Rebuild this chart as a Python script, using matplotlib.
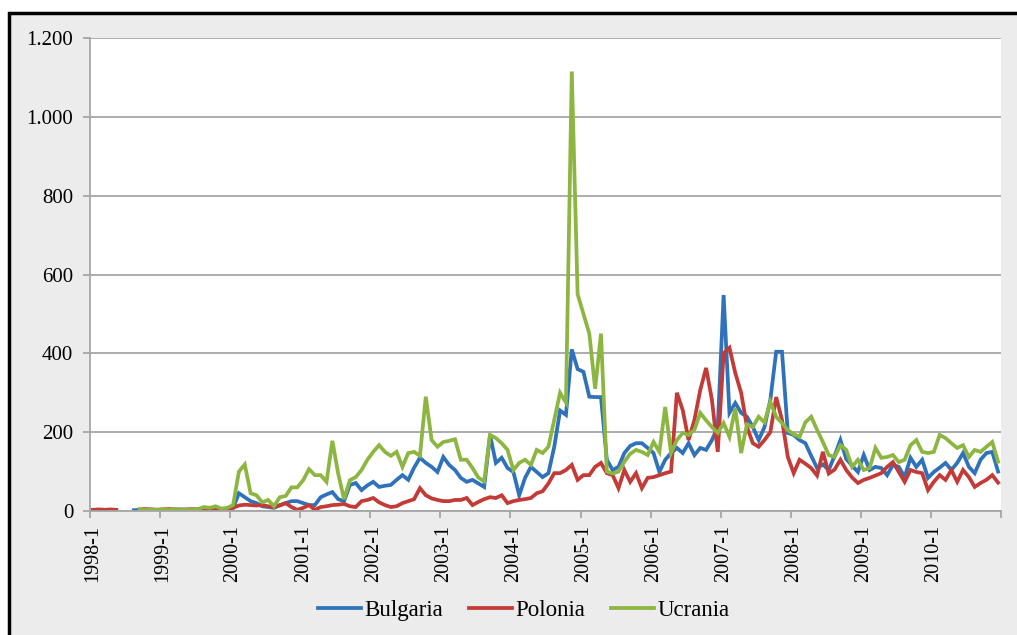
import numpy as np
import matplotlib
matplotlib.use("Agg")
import matplotlib.pyplot as plt
from matplotlib.patches import Rectangle

nan = np.nan

# monthly series, 1998-1 .. 2010-12
years = list(range(1998, 2011))
month_labels = [f"{y}-{m}" for y in years for m in range(1, 13)]
tick_labels = [f"{y}-1" for y in years]

bulgaria = [
    nan, nan, nan, nan, nan, nan, nan, 2, 3, 3, 2, 3,                 # 1998
    3, 2, 3, 4, 3, 3, 4, 5, 4, 5, 3, 4,                               # 1999
    8, 45, 35, 25, 20, 12, 10, 8, 15, 20, 25, 25,                     # 2000
    20, 15, 15, 35, 42, 48, 30, 25, 66, 71, 53, 65,                   # 2001
    74, 61, 64, 66, 79, 91, 79, 110, 135, 122, 112, 99,               # 2002
    137, 117, 104, 84, 74, 79, 70, 61, 193, 122, 135, 109,            # 2003
    99, 40, 84, 112, 99, 86, 96, 163, 255, 244, 410, 360,             # 2004
    353, 290, 289, 289, 130, 104, 112, 147, 165, 172, 172, 160,       # 2005
    147, 99, 130, 147, 160, 147, 172, 142, 160, 155, 180, 213,        # 2006
    548, 249, 274, 249, 239, 213, 180, 213, 282, 404, 404, 198,       # 2007
    193, 180, 172, 140, 109, 118, 104, 140, 180, 132, 115, 99,        # 2008
    142, 104, 112, 109, 91, 117, 112, 86, 135, 112, 130, 84,          # 2009
    99, 110, 122, 104, 122, 147, 112, 96, 130, 147, 150, 100,         # 2010
]

polonia = [
    3, 4, 3, 4, 3, nan, nan, nan, 4, 5, 4, 3,                         # 1998
    4, 5, 4, 3, 4, 5, 3, 4, 5, 6, 4, 5,                               # 1999
    8, 14, 16, 15, 14, 15, 12, 10, 14, 20, 10, 3,                     # 2000
    8, 15, 3, 10, 12, 15, 16, 18, 12, 10, 25, 28,                     # 2001
    33, 22, 15, 10, 12, 20, 25, 30, 58, 40, 32, 28,                   # 2002
    25, 25, 28, 28, 33, 15, 23, 30, 35, 33, 40, 20,                   # 2003
    25, 28, 30, 33, 45, 50, 70, 96, 96, 104, 117, 79,                 # 2004
    91, 91, 112, 122, 96, 91, 58, 104, 74, 96, 58, 84,                # 2005
    86, 91, 96, 100, 300, 256, 180, 231, 307, 363, 282, 150,          # 2006
    400, 414, 350, 300, 213, 172, 163, 180, 200, 289, 231, 137,       # 2007
    96, 130, 120, 109, 90, 150, 95, 105, 130, 104, 85, 71,            # 2008
    79, 84, 90, 96, 112, 124, 99, 74, 104, 99, 96, 53,                # 2009
    74, 91, 79, 104, 74, 104, 86, 61, 71, 79, 91, 72,                 # 2010
]

ucrania = [
    nan, nan, nan, nan, nan, nan, nan, nan, 4, 3, 4, 3,               # 1998
    4, 3, 5, 4, 3, 4, 5, 10, 8, 12, 6, 8,                             # 1999
    15, 100, 118, 45, 40, 22, 28, 12, 35, 38, 60, 60,                 # 2000
    78, 106, 91, 91, 74, 178, 95, 30, 78, 86, 104, 130,               # 2001
    150, 167, 150, 140, 150, 112, 147, 150, 140, 290, 180, 163,       # 2002
    175, 178, 182, 130, 130, 109, 85, 75, 193, 185, 172, 155,         # 2003
    104, 122, 130, 117, 155, 147, 163, 231, 300, 275, 1115, 550,      # 2004
    500, 450, 310, 450, 100, 95, 100, 125, 145, 155, 150, 142,        # 2005
    175, 150, 264, 147, 180, 198, 193, 206, 249, 230, 213, 198,       # 2006
    223, 188, 261, 147, 220, 213, 239, 225, 277, 239, 223, 205,       # 2007
    195, 188, 225, 239, 206, 175, 142, 137, 167, 155, 112, 130,       # 2008
    104, 109, 160, 135, 137, 142, 124, 130, 167, 180, 150, 147,       # 2009
    150, 193, 185, 172, 160, 167, 137, 155, 150, 163, 175, 125,       # 2010
]

series = [("Bulgaria", bulgaria, "#2f72bb"),
          ("Polonia", polonia, "#c43a36"),
          ("Ucrania", ucrania, "#8cb641")]

plt.rcParams["font.family"] = ["Liberation Serif", "DejaVu Serif"]

W, H = 1017, 635
fig = plt.figure(figsize=(W / 100, H / 100), dpi=100, facecolor="white")

# gray panel with black frame on top/left (rest is cropped)
fig.patches.append(Rectangle((9 / W, -0.1), 1.2, 1 - 13 / H + 0.1,
                             transform=fig.transFigure, facecolor="#ececec",
                             edgecolor="black", lw=2.5, zorder=-5))

ax = fig.add_axes([90 / W, (H - 511) / H, (1001 - 90) / W, (511 - 38) / H])
ax.set_facecolor("white")

x = np.arange(len(month_labels)) + 0.5
for name, vals, col in series:
    ax.plot(x, np.array(vals, dtype=float), color=col, lw=2.7, label=name,
            solid_joinstyle="miter")

ax.set_xlim(0, len(month_labels))
ax.set_ylim(0, 1200)
yt = np.arange(0, 1201, 200)
ax.set_yticks(yt)
ax.set_yticklabels([f"{v:,}".replace(",", ".") for v in yt], fontsize=15)
ax.yaxis.grid(True, color="#a6a6a6", lw=1.3)
ax.set_axisbelow(True)

ax.set_xticks(np.arange(0, len(month_labels) + 1, 12))
ax.set_xticklabels([])
ax.set_xticks(np.arange(0, len(month_labels), 12) + 0.5, minor=True)
ax.set_xticklabels(tick_labels, minor=True, rotation=90, fontsize=14.5)
ax.tick_params(axis="x", which="major", length=5, color="#a6a6a6", width=1.3)
ax.tick_params(axis="x", which="minor", length=0, pad=10)
ax.tick_params(axis="y", length=5, color="#a6a6a6", width=1.3, pad=7)

for s in ["top", "right"]:
    ax.spines[s].set_visible(False)
for s in ["left", "bottom"]:
    ax.spines[s].set_color("#a6a6a6")
    ax.spines[s].set_linewidth(1.3)

fig.legend(loc="center", bbox_to_anchor=(0.515, 0.038), ncol=3, frameon=False,
           fontsize=16.5, handlelength=1.9, handletextpad=0.15, columnspacing=1.1)

fig.savefig("out.png", dpi=100, facecolor=fig.get_facecolor())
